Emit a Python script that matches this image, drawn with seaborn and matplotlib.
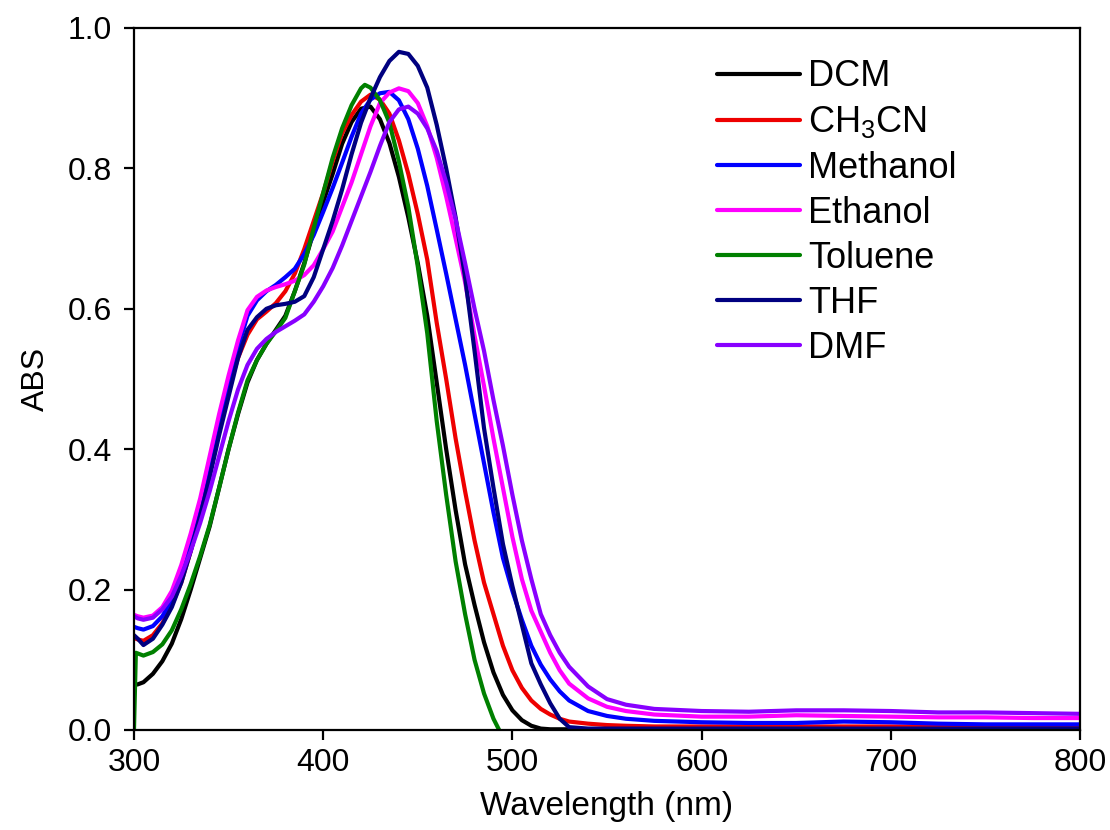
import numpy as np
import pandas as pd
import matplotlib
matplotlib.use("Agg")
import matplotlib.pyplot as plt
import seaborn as sns

# ---------------- data ----------------
wavelength = [300, 302, 305, 310, 315, 320, 325, 330, 335, 340,
              345, 350, 355, 360, 365, 370, 375, 380, 385, 390,
              395, 400, 405, 410, 415, 420, 425, 430, 435, 440,
              445, 450, 455, 460, 465, 470, 475, 480, 485, 490,
              495, 500, 505, 510, 515, 520, 525, 530, 540, 550,
              560, 575, 600, 625, 650, 675, 700, 725, 750, 775, 800]

dcm = [0.064, 0.065, 0.068, 0.080, 0.098, 0.123, 0.158, 0.200, 0.245, 0.290,
       0.345, 0.400, 0.450, 0.495, 0.527, 0.550, 0.570, 0.590, 0.625, 0.665,
       0.710, 0.752, 0.792, 0.835, 0.866, 0.885, 0.888, 0.870, 0.836, 0.788,
       0.730, 0.665, 0.590, 0.495, 0.400, 0.313, 0.236, 0.178, 0.125, 0.082,
       0.050, 0.028, 0.014, 0.006, 0.002, 0.001, 0.001, 0.001, 0.001, 0.001,
       0.001, 0.001, 0.001, 0.001, 0.001, 0.001, 0.001, 0.001, 0.001, 0.001, 0.001]

ch3cn = [0.131, 0.129, 0.127, 0.135, 0.152, 0.178, 0.210, 0.255, 0.305, 0.365,
         0.430, 0.485, 0.530, 0.563, 0.585, 0.596, 0.608, 0.625, 0.650, 0.685,
         0.725, 0.765, 0.810, 0.850, 0.876, 0.895, 0.905, 0.898, 0.878, 0.840,
         0.792, 0.735, 0.670, 0.580, 0.500, 0.415, 0.340, 0.270, 0.210, 0.165,
         0.120, 0.085, 0.060, 0.042, 0.030, 0.022, 0.016, 0.012, 0.009, 0.007,
         0.006, 0.005, 0.005, 0.005, 0.005, 0.005, 0.005, 0.005, 0.005, 0.005, 0.005]

methanol = [0.147, 0.145, 0.143, 0.148, 0.162, 0.185, 0.220, 0.265, 0.315, 0.370,
            0.430, 0.490, 0.545, 0.590, 0.612, 0.625, 0.634, 0.645, 0.657, 0.678,
            0.705, 0.738, 0.772, 0.808, 0.845, 0.878, 0.898, 0.907, 0.909, 0.897,
            0.870, 0.828, 0.775, 0.713, 0.650, 0.585, 0.520, 0.450, 0.380, 0.310,
            0.245, 0.198, 0.157, 0.120, 0.093, 0.072, 0.055, 0.042, 0.027, 0.020,
            0.016, 0.013, 0.011, 0.010, 0.010, 0.012, 0.011, 0.009, 0.008, 0.008, 0.008]

ethanol = [0.164, 0.162, 0.160, 0.163, 0.175, 0.198, 0.235, 0.280, 0.330, 0.390,
           0.450, 0.505, 0.555, 0.598, 0.617, 0.626, 0.631, 0.635, 0.640, 0.648,
           0.662, 0.685, 0.710, 0.745, 0.780, 0.820, 0.860, 0.893, 0.908, 0.914,
           0.910, 0.893, 0.860, 0.815, 0.760, 0.700, 0.638, 0.562, 0.490, 0.415,
           0.345, 0.275, 0.215, 0.170, 0.140, 0.110, 0.085, 0.066, 0.045, 0.033,
           0.027, 0.022, 0.019, 0.019, 0.021, 0.020, 0.019, 0.018, 0.018, 0.017, 0.017]

thf = [0.135, 0.130, 0.121, 0.130, 0.150, 0.175, 0.210, 0.255, 0.305, 0.360,
       0.420, 0.475, 0.530, 0.570, 0.588, 0.600, 0.605, 0.607, 0.610, 0.618,
       0.645, 0.685, 0.725, 0.770, 0.820, 0.865, 0.900, 0.930, 0.953, 0.966,
       0.963, 0.946, 0.915, 0.862, 0.800, 0.730, 0.645, 0.540, 0.430, 0.345,
       0.265, 0.205, 0.150, 0.095, 0.065, 0.038, 0.016, 0.004, 0.002, 0.002,
       0.002, 0.002, 0.002, 0.002, 0.002, 0.002, 0.002, 0.002, 0.002, 0.002, 0.002]

dmf = [0.162, 0.159, 0.157, 0.160, 0.172, 0.190, 0.220, 0.255, 0.295, 0.340,
       0.390, 0.440, 0.485, 0.520, 0.543, 0.557, 0.567, 0.575, 0.583, 0.592,
       0.610, 0.632, 0.658, 0.690, 0.725, 0.760, 0.795, 0.832, 0.866, 0.884,
       0.888, 0.878, 0.857, 0.825, 0.780, 0.727, 0.665, 0.600, 0.540, 0.470,
       0.405, 0.335, 0.270, 0.215, 0.165, 0.135, 0.110, 0.090, 0.062, 0.044,
       0.036, 0.030, 0.027, 0.026, 0.028, 0.028, 0.027, 0.025, 0.025, 0.024, 0.023]

# Toluene has its own (shorter) wavelength range
wavelength_toluene = [300, 301, 305, 310, 315, 320, 325, 330, 335, 340,
                      345, 350, 355, 360, 365, 370, 375, 380, 385, 390,
                      395, 400, 405, 410, 415, 420, 422, 425, 430, 435,
                      440, 445, 450, 455, 460, 465, 470, 475, 480, 485,
                      490, 493]
toluene = [0.000, 0.110, 0.106, 0.111, 0.122, 0.142, 0.172, 0.208, 0.248, 0.292,
           0.345, 0.400, 0.452, 0.498, 0.527, 0.550, 0.568, 0.587, 0.625, 0.663,
           0.715, 0.765, 0.815, 0.857, 0.890, 0.914, 0.919, 0.915, 0.897, 0.865,
           0.810, 0.745, 0.660, 0.565, 0.440, 0.335, 0.240, 0.165, 0.100, 0.052,
           0.016, 0.000]

solvents = ["DCM", "CH$_3$CN", "Methanol", "Ethanol", "Toluene", "THF", "DMF"]
colors = ["#000000", "#ee0000", "#0000ff", "#ff00ff", "#008000", "#000080", "#8800ff"]
x_ticks = [300, 400, 500, 600, 700, 800]
y_ticks = [0.0, 0.2, 0.4, 0.6, 0.8, 1.0]

# ---------------- build long table ----------------
series = {
    "DCM": (wavelength, dcm),
    "CH$_3$CN": (wavelength, ch3cn),
    "Methanol": (wavelength, methanol),
    "Ethanol": (wavelength, ethanol),
    "Toluene": (wavelength_toluene, toluene),
    "THF": (wavelength, thf),
    "DMF": (wavelength, dmf),
}
frames = []
for name, (xs, ys) in series.items():
    frames.append(pd.DataFrame({"wl": xs, "abs": ys, "solvent": name}))
df = pd.concat(frames, ignore_index=True)

# ---------------- style ----------------
sns.set_style("ticks")
plt.rcParams["font.family"] = ["Liberation Sans", "DejaVu Sans"]
plt.rcParams["mathtext.fontset"] = "custom"
plt.rcParams["mathtext.rm"] = "Liberation Sans"
plt.rcParams["mathtext.it"] = "Liberation Sans:italic"
plt.rcParams["mathtext.bf"] = "Liberation Sans:bold"
plt.rcParams["text.color"] = "black"
plt.rcParams["axes.labelcolor"] = "black"
plt.rcParams["xtick.color"] = "black"
plt.rcParams["ytick.color"] = "black"

fig = plt.figure(figsize=(11.1, 8.3), dpi=100)
ax = fig.add_axes([0.1207, 0.1205, 0.8523, 0.8458])

sns.lineplot(data=df, x="wl", y="abs", hue="solvent", hue_order=solvents,
             palette=dict(zip(solvents, colors)), estimator=None,
             linewidth=3.0, ax=ax)

ax.set_xlim(300, 800)
ax.set_ylim(0.0, 1.0)
ax.set_xticks(x_ticks)
ax.set_yticks(y_ticks)
ax.set_yticklabels([f"{v:.1f}" for v in y_ticks])
ax.tick_params(direction="out", length=7, width=1.6, labelsize=23,
               colors="black")
ax.tick_params(axis="x", pad=6)
ax.tick_params(axis="y", pad=9)
for sp in ax.spines.values():
    sp.set_visible(True)
    sp.set_linewidth(1.6)
    sp.set_color("black")

ax.set_xlabel("Wavelength (nm)", fontsize=24, labelpad=9, color="black")
ax.set_ylabel("ABS", fontsize=23, labelpad=12, color="black")

handles, labels = ax.get_legend_handles_labels()
for h in handles:
    h.set_linewidth(3.0)
leg = ax.legend(handles, labels, loc="upper left", bbox_to_anchor=(0.597, 0.981),
                frameon=False, fontsize=26, handlelength=2.3, handletextpad=0.22,
                labelspacing=0.28, borderpad=0.0)
for t in leg.get_texts():
    t.set_color("black")

fig.savefig("out.png", dpi=100)
